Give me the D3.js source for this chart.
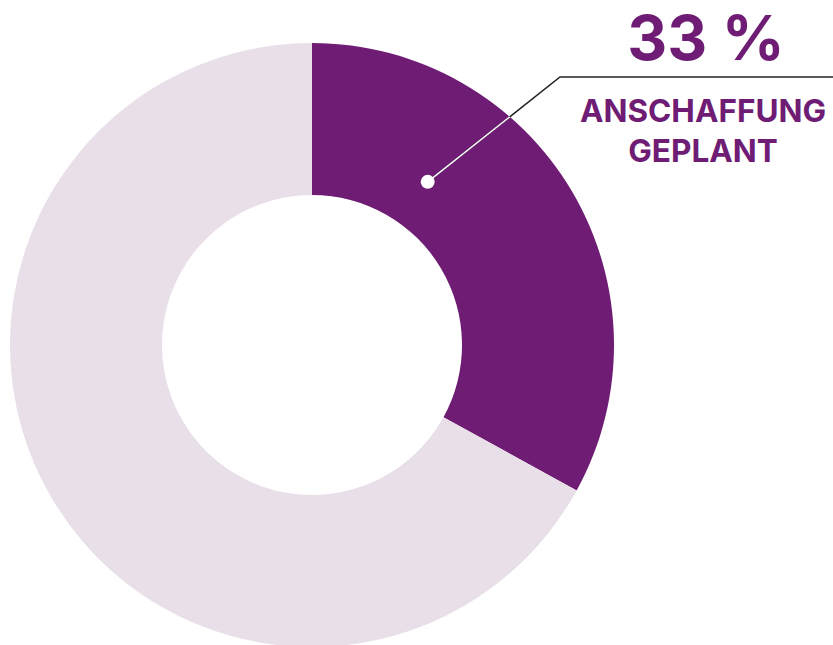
<!DOCTYPE html>
<html>
<head>
<meta charset="utf-8">
<script src="https://cdn.jsdelivr.net/npm/d3@7"></script>
<style>
  body { margin: 0; background: #fff; }
  svg { display: block; }
  text { font-family: Inter, Roboto, sans-serif; font-weight: 700; fill: #6f1c74; }
</style>
</head>
<body>
<svg id="chart"></svg>
<script>
// data
const categories = ["Anschaffung geplant", "Rest"]
const values = [33, 67]
const colors = ["#6f1c74", "#e8dfe9"]
const valueLabel = "33 %"
const labelLines = ["ANSCHAFFUNG", "GEPLANT"]

const width = 833, height = 645
const cx = 312, cy = 345
const outerR = 302, innerR = 150

const svg = d3.select("#chart").attr("width", width).attr("height", height)
const g = svg.append("g").attr("transform", `translate(${cx},${cy})`)

const pie = d3.pie().sort(null).value(d => d)
const arcs = pie(values)
const arc = d3.arc().innerRadius(innerR).outerRadius(outerR)

g.selectAll("path.slice")
  .data(arcs)
  .join("path")
  .attr("class", "slice")
  .attr("d", arc)
  .attr("fill", (d, i) => colors[i])

// leader line: dot inside slice, up to a knee, then flat to the right edge
const mid = (arcs[0].startAngle + arcs[0].endAngle) / 2
const dotAngle = mid - 0.42
const dotR = 200
const dot = [Math.sin(dotAngle) * dotR, -Math.cos(dotAngle) * dotR]
const knee = [560 - cx, 77 - cy]
const end = [width - cx, 77 - cy]
const pts = [dot, knee, end]

// clip path lives in the g's coordinate space (userSpaceOnUse)
svg.append("defs").append("clipPath").attr("id", "sliceClip")
  .append("path").attr("d", arc(arcs[0]))

g.append("path")
  .attr("d", d3.line()(pts))
  .attr("fill", "none").attr("stroke", "#222").attr("stroke-width", 1.5)
g.append("path")
  .attr("d", d3.line()(pts))
  .attr("clip-path", "url(#sliceClip)")
  .attr("fill", "none").attr("stroke", "#fff").attr("stroke-width", 1.5)
g.append("circle")
  .attr("cx", dot[0]).attr("cy", dot[1]).attr("r", 7).attr("fill", "#fff")

// labels
svg.append("text")
  .attr("x", 706).attr("y", 60)
  .attr("text-anchor", "middle")
  .attr("font-size", 62)
  .text(valueLabel)

svg.selectAll("text.lbl")
  .data(labelLines)
  .join("text")
  .attr("class", "lbl")
  .attr("x", 703)
  .attr("y", (d, i) => 122 + i * 40)
  .attr("text-anchor", "middle")
  .attr("font-size", 31.5)
  .text(d => d)
</script>
</body>
</html>
